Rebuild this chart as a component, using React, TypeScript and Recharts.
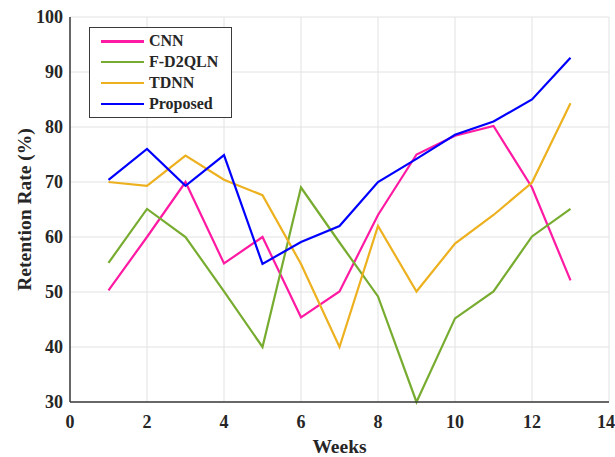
import { LineChart, Line, XAxis, YAxis, CartesianGrid } from 'recharts'

const weeks = [1, 2, 3, 4, 5, 6, 7, 8, 9, 10, 11, 12, 13]
const cnn = [50.3, 60, 70, 55.2, 60, 45.4, 50.1, 64, 75, 78.4, 80.2, 69, 52.1]
const fd2qln = [55.3, 65.1, 60, 50.1, 40, 69, 59, 49.2, 30, 45.2, 50.1, 60.1, 65.1]
const tdnn = [70, 69.3, 74.8, 70.4, 67.6, 55.1, 40, 62, 50.1, 58.8, 64, 69.9, 84.3]
const proposed = [70.4, 76, 69.3, 74.9, 55.1, 59.1, 62, 70, 74.2, 78.6, 81, 85, 92.6]

const xTicks = [0, 2, 4, 6, 8, 10, 12, 14]
const yTicks = [30, 40, 50, 60, 70, 80, 90, 100]

const series = [
  { key: 'cnn', name: 'CNN', color: '#ff1aa3' },
  { key: 'fd2qln', name: 'F-D2QLN', color: '#77ac30' },
  { key: 'tdnn', name: 'TDNN', color: '#edb120' },
  { key: 'proposed', name: 'Proposed', color: '#0000ff' },
]

const data = weeks.map((w, i) => ({
  week: w,
  cnn: cnn[i],
  fd2qln: fd2qln[i],
  tdnn: tdnn[i],
  proposed: proposed[i],
}))

const FONT = '"Liberation Serif", "Times New Roman", serif'
const TEXT = '#262626'
const AXIS = '#3a3a3a'

const tickStyle = { fontFamily: FONT, fontSize: 18, fontWeight: 700, fill: TEXT }

const YLabel = ({ viewBox }: any) => {
  const cy = viewBox.y + viewBox.height / 2
  return (
    <text
      x={31}
      y={cy}
      transform={`rotate(-90, 31, ${cy})`}
      textAnchor="middle"
      style={{ fontFamily: FONT, fontSize: 19.5, fontWeight: 700, fill: TEXT }}
    >
      Retention Rate (%)
    </text>
  )
}

export default function App() {
  return (
    <div style={{ position: 'absolute', left: 0, top: 0, width: 615, height: 457, background: '#fff' }}>
      <LineChart width={615} height={457} data={data} margin={{ top: 17, right: 6, bottom: 0, left: 0 }}>
        <CartesianGrid stroke="#e2e2e2" strokeWidth={1} />
        <XAxis
          dataKey="week"
          type="number"
          domain={[0, 14]}
          ticks={xTicks}
          height={55}
          tickSize={0}
          tickMargin={13}
          tick={tickStyle}
          axisLine={{ stroke: AXIS, strokeWidth: 1.5 }}
          label={{ value: 'Weeks', position: 'insideBottom', offset: 4, style: { fontFamily: FONT, fontSize: 19.5, fontWeight: 700, fill: TEXT } }}
        />
        <XAxis xAxisId="top" orientation="top" type="number" domain={[0, 14]} height={0} tick={false} tickLine={false} axisLine={{ stroke: AXIS, strokeWidth: 1.5 }} />
        <YAxis
          type="number"
          domain={[30, 100]}
          ticks={yTicks}
          width={70}
          tickSize={0}
          tickMargin={7}
          tick={tickStyle}
          axisLine={{ stroke: AXIS, strokeWidth: 1.5 }}
          label={<YLabel />}
        />
        <YAxis yAxisId="right" orientation="right" type="number" domain={[30, 100]} width={0} tick={false} tickLine={false} axisLine={{ stroke: AXIS, strokeWidth: 1.5 }} />
        {series.map(s => (
          <Line
            key={s.key}
            dataKey={s.key}
            name={s.name}
            stroke={s.color}
            strokeWidth={2.2}
            dot={false}
            type="linear"
            isAnimationActive={false}
          />
        ))}
      </LineChart>

      {/* legend box, top-left inside the plot */}
      <div
        style={{
          position: 'absolute',
          left: 89,
          top: 27,
          width: 141,
          height: 86,
          border: `1.5px solid ${AXIS}`,
          background: '#fff',
          paddingTop: 3,
          boxSizing: 'content-box',
        }}
      >
        {series.map(s => (
          <div key={s.key} style={{ display: 'flex', alignItems: 'center', height: 20.8 }}>
            <div style={{ width: 43, height: 2.5, background: s.color, marginLeft: 11 }} />
            <span style={{ marginLeft: 5, fontFamily: FONT, fontSize: 16, fontWeight: 700, color: TEXT, lineHeight: '20px' }}>{s.name}</span>
          </div>
        ))}
      </div>
    </div>
  )
}
